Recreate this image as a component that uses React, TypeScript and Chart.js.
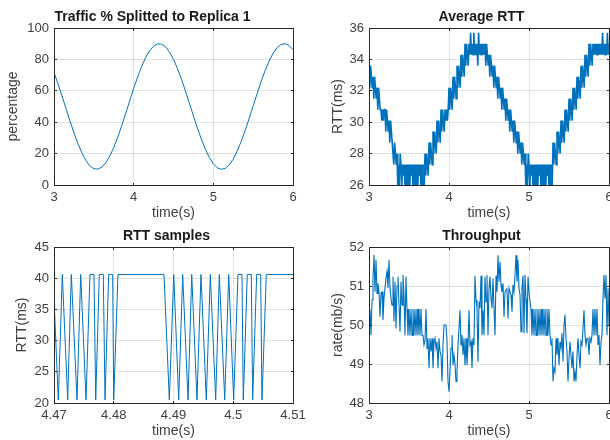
import React, { useEffect, useRef } from 'react';
import { Chart, registerables } from 'chart.js';

Chart.register(...registerables);

const FONT = "'Liberation Sans', Arial, Helvetica, sans-serif";
const BLUE = '#0072BD';
const AXIS_COLOR = '#262626';
const TICK_COLOR = '#404040';
const GRID_COLOR = 'rgba(38,38,38,0.13)';

// ---------- Panel 1: Traffic % splitted to replica 1 (t = 3.00 .. 6.00 every 0.05 s)
const TRAFFIC_T0 = 3;
const TRAFFIC_DT = 0.05;
const TRAFFIC_PCT = [
  71.6, 64.5, 56.8, 48.8, 40.9, 33.3, 26.4, 20.5, 15.6, 12.2,
  10.4, 10.1, 11.3, 14.2, 18.4, 23.9, 30.4, 37.8, 45.6, 53.6,
  61.5, 68.8, 75.5, 81.1, 85.5, 88.4, 89.9, 89.7, 88.0, 84.7,
  80.1, 74.2, 67.4, 59.9, 52.0, 44.0, 36.3, 29.1, 22.7, 17.5,
  13.5, 11.0, 10.0, 10.6, 12.9, 16.5, 21.6, 27.8, 34.8, 42.5,
  50.4, 58.3, 65.9, 72.9, 78.9, 83.9, 87.4, 89.5, 90.0, 88.9,
  86.2,
];

// ---------- Panel 2: Average RTT (t = 3.00 .. 6.00 every 0.01 s)
const AVG_RTT_T0 = 3;
const AVG_RTT_DT = 0.01;
const AVG_RTT = [
  33.6, 32.2, 33.6, 32.9, 32.2, 32.9, 31.5, 32.9, 32.2, 31.5,
  32.2, 30.8, 32.2, 31.5, 30.8, 30.8, 30.1, 30.8, 30.1, 30.8,
  30.8, 29.4, 30.8, 30.1, 29.4, 30.1, 28.7, 30.1, 29.4, 28.7,
  28.7, 27.3, 28.7, 28, 27.3, 28, 25.9, 27.3, 25.9, 28,
  27.3, 25.9, 27.3, 26.6, 27.3, 25.9, 27.3, 25.9, 27.3, 25.9,
  27.3, 25.9, 27.3, 26.6, 27.3, 25.9, 27.3, 25.9, 27.3, 25.9,
  27.3, 25.9, 27.3, 26.6, 27.3, 25.9, 27.3, 25.9, 27.3, 25.9,
  28, 26.6, 28, 27.3, 26.6, 28.7, 27.3, 28.7, 28, 27.3,
  29.4, 28, 29.4, 28.7, 28, 30.1, 28.7, 30.1, 29.4, 28.7,
  30.8, 29.4, 30.8, 30.1, 29.4, 30.8, 30.1, 30.8, 30.1, 30.8,
  32.2, 30.8, 32.2, 31.5, 30.8, 32.9, 31.5, 32.9, 32.2, 31.5,
  33.6, 32.2, 33.6, 32.9, 32.2, 34.3, 32.9, 34.3, 33.6, 32.9,
  35, 33.6, 35, 34.3, 33.6, 35, 34.3, 35.7, 34.3, 35,
  34.3, 35.7, 34.3, 35, 34.3, 35, 33.6, 35.7, 34.3, 35,
  34.3, 35, 34.3, 35, 34.3, 35, 33.6, 35, 34.3, 33.6,
  34.3, 32.9, 34.3, 33.6, 32.9, 33.6, 32.2, 33.6, 32.9, 32.2,
  32.9, 31.5, 32.9, 32.2, 31.5, 32.2, 30.8, 32.2, 31.5, 30.8,
  31.5, 30.1, 31.5, 30.8, 30.1, 30.8, 29.4, 30.8, 30.1, 29.4,
  30.1, 28.7, 30.1, 29.4, 28.7, 29.4, 28, 29.4, 28.7, 28,
  28.7, 27.3, 28.7, 28, 27.3, 28, 25.9, 27.3, 25.9, 28,
  27.3, 25.9, 27.3, 26.6, 27.3, 25.9, 27.3, 25.9, 27.3, 25.9,
  27.3, 25.9, 27.3, 26.6, 27.3, 25.9, 27.3, 25.9, 27.3, 25.9,
  27.3, 25.9, 27.3, 26.6, 27.3, 25.9, 27.3, 25.9, 27.3, 25.9,
  28.7, 27.3, 28.7, 28, 27.3, 29.4, 28, 29.4, 28.7, 28,
  30.1, 28.7, 30.1, 29.4, 28.7, 30.8, 29.4, 30.8, 30.1, 29.4,
  31.5, 30.1, 31.5, 30.8, 30.1, 32.2, 30.8, 32.2, 31.5, 30.8,
  32.9, 31.5, 32.9, 32.2, 31.5, 33.6, 32.2, 33.6, 32.9, 32.2,
  34.3, 32.9, 34.3, 33.6, 32.9, 35, 33.6, 35, 34.3, 33.6,
  35, 34.3, 35, 34.3, 35, 34.3, 35, 34.3, 35, 34.3,
  35, 34.3, 35.7, 34.3, 35, 34.3, 35, 34.3, 35.7, 34.3,
  35,
];

// ---------- Panel 3: RTT samples
const RTT_SAMPLE_T = [
  4.46983, 4.47072, 4.47139, 4.47229, 4.4729, 4.47385, 4.47447, 4.47536, 4.47602, 4.47669,
  4.47698, 4.47758, 4.47825, 4.47854, 4.47915, 4.47982, 4.47999, 4.48071, 4.48841, 4.4893,
  4.49004, 4.49087, 4.49154, 4.49243, 4.49305, 4.49393, 4.4946, 4.49549, 4.49616, 4.49706,
  4.49767, 4.49857, 4.49924, 4.50007, 4.50079, 4.50146, 4.50168, 4.50235, 4.50302, 4.50325,
  4.50392, 4.50459, 4.50481, 4.50553, 4.512,
];
const RTT_SAMPLE_V = [
  40.6, 20.5, 40.6, 20.5, 40.6, 20.5, 40.6, 20.5, 40.6, 40.6,
  20.5, 40.6, 40.6, 20.5, 40.6, 40.6, 20.5, 40.6, 40.6, 20.5,
  40.6, 20.5, 40.6, 20.5, 40.6, 20.5, 40.6, 20.5, 40.6, 20.5,
  40.6, 20.5, 40.6, 20.5, 40.6, 40.6, 20.5, 40.6, 40.6, 20.5,
  40.6, 40.6, 20.5, 40.6, 40.6,
];

// ---------- Panel 4: Throughput (t = 3.00 .. 6.00 every 0.0125 s)
const TP_T0 = 3;
const TP_DT = 0.0125;
const THROUGHPUT = [
  49.9, 50.4, 49.74, 50.64, 51.2, 51.8, 50.85, 51.67, 50.81, 51.07,
  50.85, 50.21, 50.81, 50.85, 50.13, 50.68, 50.94, 51.2, 51.37, 50.94,
  51.67, 50.94, 50.68, 50.51, 51.24, 50.09, 51.11, 49.91, 51.0, 51.24,
  50.51, 49.83, 51.11, 50.51, 51.28, 50.77, 49.74, 51.24,
  50.41, 49.73, 50.41, 49.73, 50.41, 49.73, 50.41, 49.73, 50.41, 49.73,
  50.41, 49.73, 50.41, 49.73, 50.41, 49.73,
  49.74, 49.49, 49.6, 50.41, 49.4, 49.66,
  48.89, 49.66, 49.32, 49.66, 48.89, 49.57, 49.66, 49.4, 49.57, 48.89,
  49.66, 49.32, 49.23, 48.55, 49.49, 50.0, 50.0, 50.0, 49.6, 48.55,
  48.29, 48.8, 49.4, 49.74, 48.97, 49.23, 49.0, 48.55, 48.8, 49.49,
  49.91, 50.38, 49.49, 49.74, 49.23, 49.66, 48.97, 49.66, 48.97, 49.49,
  50.38, 49.49, 49.57, 48.89, 49.66, 49.49, 51.26, 50.64, 50.43, 49.06,
  50.6, 50.43, 51.26, 49.74, 50.38, 49.74, 51.24, 50.6, 51.28, 49.74,
  50.94, 51.24, 50.68, 50.43, 51.2, 50.43, 49.74, 51.26, 50.85, 51.79,
  51.11, 51.62, 51.03, 50.85, 51.07, 50.21, 50.85, 50.9, 50.94, 50.17,
  50.94, 50.85, 50.77, 50.34, 51.03, 50.85, 51.28, 51.79, 51.11, 51.67,
  50.94, 50.77, 49.83, 50.94, 51.26, 49.79, 51.28,
  50.68, 49.79, 51.24, 50.85, 50.6,
  50.41, 49.73, 50.41, 49.73, 50.41, 49.73, 50.41, 49.73, 50.41, 49.73,
  50.41, 49.73, 50.41, 49.73, 50.41, 49.73, 50.41, 49.73, 50.41, 49.73,
  49.49, 49.66, 48.55, 48.89, 48.8, 49.66, 49.23, 49.66,
  48.97, 49.57, 49.4, 49.79, 49.06, 50.0, 50.26, 49.66, 49.32, 48.55,
  49.15, 49.57, 49.23, 48.89, 49.32, 48.55, 48.8, 48.55, 49.23, 49.66,
  49.23, 48.89, 49.57, 49.49, 49.91, 50.38, 49.74, 49.49, 49.66, 49.66,
  49.23, 49.66, 49.57, 49.74,
  50.41, 49.73, 50.41, 49.73, 50.41,
  49.49, 49.74, 48.97, 49.57, 49.74, 50.68, 51.28, 50.68, 51.28, 49.74, 50.94, 50.0,
];

const uniform = (t0: number, dt: number, vals: number[]) =>
  vals.map((y, i) => ({ x: t0 + i * dt, y }));
const paired = (ts: number[], vals: number[]) => vals.map((y, i) => ({ x: ts[i], y }));

const alignPx = (v: number) => Math.round(v - 0.5) + 0.5;

const matlabBox = {
  id: 'matlabBox',
  afterLayout(chart: any, _args: any, opts: any) {
    const tb = chart.titleBlock;
    if (tb && opts && typeof opts.titleCenter === 'number') {
      tb.left = opts.titleCenter - 150;
      tb.right = opts.titleCenter + 150;
      tb.width = 300;
    }
  },
  afterDatasetsDraw(chart: any) {
    const { ctx, chartArea: a, scales } = chart;
    const L = alignPx(a.left), R = alignPx(a.right), T = alignPx(a.top), B = alignPx(a.bottom);
    ctx.save();
    ctx.strokeStyle = AXIS_COLOR;
    ctx.lineWidth = 1;
    ctx.beginPath();
    ctx.rect(L, T, R - L, B - T);
    ctx.stroke();
    const tl = 2.5;
    ctx.beginPath();
    for (const t of scales.x.ticks) {
      const px = alignPx(scales.x.getPixelForValue(t.value));
      ctx.moveTo(px, B); ctx.lineTo(px, B - tl);
      ctx.moveTo(px, T); ctx.lineTo(px, T + tl);
    }
    for (const t of scales.y.ticks) {
      const py = alignPx(scales.y.getPixelForValue(t.value));
      ctx.moveTo(L, py); ctx.lineTo(L + tl, py);
      ctx.moveTo(R, py); ctx.lineTo(R - tl, py);
    }
    ctx.stroke();
    ctx.restore();
  },
};

type Panel = {
  key: string;
  title: string;
  yLabel: string;
  points: { x: number; y: number }[];
  lineWidth: number;
  xMin: number; xMax: number; xStep: number;
  yMin: number; yMax: number; yStep: number;
  left: number; top: number; width: number; height: number;
  padL: number; padR: number; yW: number; xH: number;
  tPadTop: number; tPadBottom: number;
  yTitlePad: number; xTitlePadBottom: number; titleCenter: number;
};

const PANELS: Panel[] = [
  {
    key: 'traffic', title: 'Traffic % Splitted to Replica 1', yLabel: 'percentage',
    points: uniform(TRAFFIC_T0, TRAFFIC_DT, TRAFFIC_PCT), lineWidth: 1,
    xMin: 3, xMax: 6, xStep: 1, yMin: 0, yMax: 100, yStep: 20,
    left: 0, top: 0, width: 305, height: 225,
    padL: 0, padR: 12, yW: 54, xH: 40, tPadTop: 8.6, tPadBottom: 2.6,
    yTitlePad: 4.9, xTitlePadBottom: 3, titleCenter: 152.5,
  },
  {
    key: 'avgrtt', title: 'Average RTT', yLabel: 'RTT(ms)',
    points: uniform(AVG_RTT_T0, AVG_RTT_DT, AVG_RTT), lineWidth: 1.6,
    xMin: 3, xMax: 6, xStep: 1, yMin: 26, yMax: 36, yStep: 2,
    left: 305, top: 0, width: 305, height: 225,
    padL: 0, padR: 1, yW: 64, xH: 40, tPadTop: 8.6, tPadBottom: 2.6,
    yTitlePad: 24.3, xTitlePadBottom: 3, titleCenter: 176.5,
  },
  {
    key: 'samples', title: 'RTT samples', yLabel: 'RTT(ms)',
    points: paired(RTT_SAMPLE_T, RTT_SAMPLE_V), lineWidth: 1,
    xMin: 4.47, xMax: 4.51, xStep: 0.01, yMin: 20, yMax: 45, yStep: 5,
    left: 0, top: 220, width: 305, height: 220,
    padL: 0, padR: 12, yW: 54, xH: 37, tPadTop: 7.4, tPadBottom: 2.8,
    yTitlePad: 13.3, xTitlePadBottom: 0, titleCenter: 166.5,
  },
  {
    key: 'throughput', title: 'Throughput', yLabel: 'rate(mb/s)',
    points: uniform(TP_T0, TP_DT, THROUGHPUT), lineWidth: 1.1,
    xMin: 3, xMax: 6, xStep: 1, yMin: 48, yMax: 52, yStep: 1,
    left: 305, top: 220, width: 305, height: 220,
    padL: 0, padR: 1, yW: 64, xH: 37, tPadTop: 7.4, tPadBottom: 2.8,
    yTitlePad: 24.6, xTitlePadBottom: 0, titleCenter: 176.5,
  },
];

const fmt = (v: number) => String(Math.round(Number(v) * 100) / 100);

function buildConfig(p: Panel): any {
  return {
    type: 'line',
    data: {
      datasets: [{
        data: p.points, borderColor: BLUE, borderWidth: p.lineWidth, pointRadius: 0,
        tension: 0, fill: false,
      }],
    },
    options: {
      animation: false, responsive: false, devicePixelRatio: 1, events: [],
      layout: { padding: { left: p.padL, right: p.padR, top: 0, bottom: 0 } },
      plugins: {
        legend: { display: false },
        tooltip: { enabled: false },
        title: {
          display: true, text: p.title, color: '#1a1a1a', align: 'center',
          font: { family: FONT, size: 14, weight: 'bold' },
          padding: { top: p.tPadTop, bottom: p.tPadBottom },
        },
        matlabBox: { titleCenter: p.titleCenter },
      },
      scales: {
        x: {
          type: 'linear', min: p.xMin, max: p.xMax,
          ticks: {
            stepSize: p.xStep, padding: 5, color: TICK_COLOR, autoSkip: false, maxRotation: 0,
            font: { family: FONT, size: 13 }, callback: (v: number) => fmt(v),
          },
          grid: { color: GRID_COLOR, drawTicks: false },
          border: { display: false },
          title: {
            display: true, text: 'time(s)', color: TICK_COLOR,
            font: { family: FONT, size: 14 }, padding: { top: 0, bottom: p.xTitlePadBottom },
          },
          afterFit: (s: any) => { s.height = p.xH; s.paddingLeft = 0; s.paddingRight = 0; },
        },
        y: {
          type: 'linear', min: p.yMin, max: p.yMax,
          ticks: {
            stepSize: p.yStep, padding: 5, color: TICK_COLOR, autoSkip: false,
            font: { family: FONT, size: 13 }, callback: (v: number) => fmt(v),
          },
          grid: { color: GRID_COLOR, drawTicks: false },
          border: { display: false },
          title: {
            display: true, text: p.yLabel, color: TICK_COLOR,
            font: { family: FONT, size: 14 }, padding: { top: p.yTitlePad, bottom: 0 },
          },
          afterFit: (s: any) => { s.width = p.yW; s.paddingTop = 0; s.paddingBottom = 0; },
        },
      },
    },
    plugins: [matlabBox],
  };
}

function PanelChart({ p }: { p: Panel }) {
  const ref = useRef<HTMLCanvasElement | null>(null);
  useEffect(() => {
    if (!ref.current) return;
    const chart = new Chart(ref.current, buildConfig(p));
    return () => chart.destroy();
  }, [p]);
  return (
    <canvas
      ref={ref}
      width={p.width}
      height={p.height}
      style={{ position: 'absolute', left: p.left, top: p.top, width: p.width, height: p.height }}
    />
  );
}

export default function App() {
  return (
    <div style={{ position: 'absolute', left: 0, top: 0, width: 610, height: 440, background: '#fff', overflow: 'hidden' }}>
      {PANELS.map((p) => <PanelChart key={p.key} p={p} />)}
    </div>
  );
}
